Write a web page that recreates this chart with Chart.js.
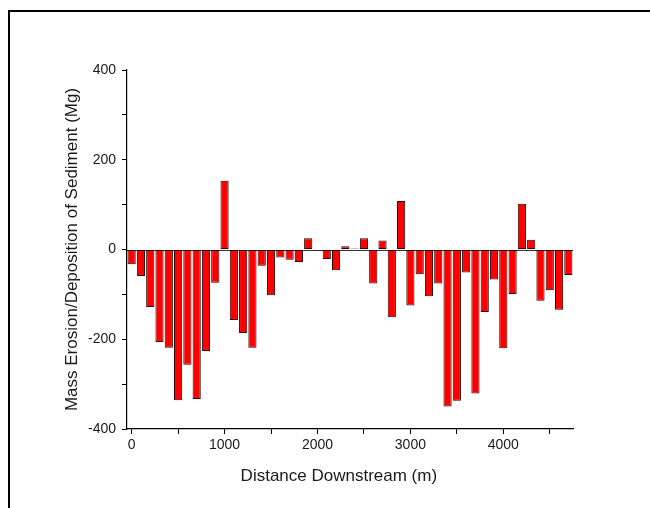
<!DOCTYPE html>
<html>
<head>
<meta charset="utf-8">
<script src="https://cdn.jsdelivr.net/npm/chart.js@4/dist/chart.umd.min.js"></script>
<style>
  html, body { margin: 0; padding: 0; background: #fff; overflow: hidden; }
  #wrap { position: relative; width: 650px; height: 508px; }
  #frame { position: absolute; left: 8px; top: 10px; width: 700px; height: 600px; border: 2px solid #000; box-sizing: border-box; pointer-events: none; }
  canvas { position: absolute; left: 0; top: 0; }
</style>
</head>
<body>
<div id="wrap">
  <canvas id="c" width="650" height="508"></canvas>
  <div id="frame"></div>
</div>
<script>
const distances = [0,100,200,300,400,500,600,700,800,900,1000,1100,1200,1300,1400,1500,1600,1700,1800,1900,2000,2100,2200,2300,2400,2500,2600,2700,2800,2900,3000,3100,3200,3300,3400,3500,3600,3700,3800,3900,4000,4100,4200,4300,4400,4500,4600,4700];
const massChange = [-33,-59,-128,-206,-219,-336,-257,-333,-226,-74,153,-157,-186,-219,-36,-102,-18,-23,-28,25,-2,-21,-46,7,2,25,-76,20,-151,108,-125,-55,-104,-76,-350,-337,-51,-321,-139,-67,-220,-99,102,22,-114,-91,-134,-57];
const xTickValues = [0,500,1000,1500,2000,2500,3000,3500,4000,4500];
const xTickLabels = [0,1000,2000,3000,4000];
const yTickValues = [-400,-300,-200,-100,0,100,200,300,400];
const yTickLabels = [-400,-200,0,200,400];
const xTitle = 'Distance Downstream (m)';
const yTitle = 'Mass Erosion/Deposition of Sediment (Mg)';

const points = distances.map((d, i) => ({ x: d, y: massChange[i] }));
const fontFamily = 'Liberation Sans, Arial, sans-serif';

new Chart(document.getElementById('c'), {
  type: 'bar',
  data: {
    datasets: [{
      data: points,
      backgroundColor: '#ff0000',
      borderColor: '#2a0505',
      borderWidth: 1,
      borderSkipped: false,
      barPercentage: 0.88,
      categoryPercentage: 1.0
    }]
  },
  options: {
    responsive: false,
    animation: false,
    devicePixelRatio: 1,
    layout: { padding: { left: 60, right: 77, top: 70, bottom: 20 } },
    plugins: { legend: { display: false }, tooltip: { enabled: false } },
    scales: {
      x: {
        type: 'linear',
        min: -50,
        max: 4750,
        offset: false,
        afterBuildTicks: s => { s.ticks = xTickValues.map(v => ({ value: v })); },
        afterFit: s => { s.height = 59; },
        border: { display: true, color: '#000', width: 1.2 },
        grid: { display: true, drawOnChartArea: false, drawTicks: true, tickLength: 5, color: '#000', offset: false },
        ticks: {
          color: '#1a1a1a',
          font: { family: fontFamily, size: 14 },
          padding: 3,
          maxRotation: 0,
          autoSkip: false,
          callback: v => (xTickLabels.includes(v) ? String(v) : '')
        },
        title: { display: false, text: xTitle }
      },
      y: {
        type: 'linear',
        min: -400,
        max: 400,
        afterBuildTicks: s => { s.ticks = yTickValues.map(v => ({ value: v })); },
        afterFit: s => { s.width = 67; },
        border: { display: true, color: '#000', width: 1.2 },
        grid: { display: true, drawOnChartArea: false, drawTicks: true, tickLength: 5, color: '#000' },
        ticks: {
          color: '#1a1a1a',
          font: { family: fontFamily, size: 14 },
          padding: 6,
          autoSkip: false,
          callback: v => (yTickLabels.includes(v) ? String(v) : '')
        },
        title: { display: true, text: yTitle, color: '#1a1a1a', font: { family: fontFamily, size: 17 }, padding: { top: 2, bottom: 0 } }
      }
    }
  },
  plugins: [{
    id: 'zeroLineAndTitle',
    beforeDatasetsDraw(chart) {
      const { ctx, chartArea, scales } = chart;
      const y0 = scales.y.getPixelForValue(0);
      ctx.save();
      ctx.strokeStyle = '#333';
      ctx.lineWidth = 1;
      ctx.beginPath();
      ctx.moveTo(chartArea.left, Math.round(y0) + 0.5);
      ctx.lineTo(chartArea.right, Math.round(y0) + 0.5);
      ctx.stroke();
      ctx.restore();
    },
    afterDraw(chart) {
      const { ctx, chartArea } = chart;
      ctx.save();
      ctx.fillStyle = '#1a1a1a';
      ctx.font = '17px ' + fontFamily;
      ctx.textAlign = 'center';
      ctx.textBaseline = 'middle';
      ctx.fillText(xTitle, chartArea.left + (chartArea.right - chartArea.left) * 0.475, chartArea.bottom + 47);
      ctx.restore();
    }
  }]
});
</script>
</body>
</html>
